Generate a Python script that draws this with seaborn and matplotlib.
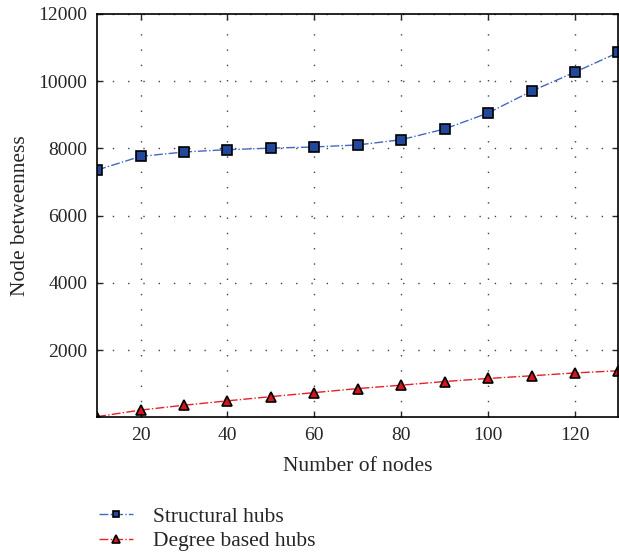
import matplotlib
matplotlib.use("Agg")
import matplotlib.pyplot as plt
import seaborn as sns
import pandas as pd

# values
nodes = [10, 20, 30, 40, 50, 60, 70, 80, 90, 100, 110, 120, 130]
structural_hubs = [7355, 7760, 7890, 7960, 8005, 8040, 8100, 8255, 8575,
                   9050, 9700, 10265, 10850]
degree_hubs = [20, 215, 360, 490, 615, 735, 855, 955, 1065, 1155, 1235,
               1320, 1385]
y_ticks = [2000, 4000, 6000, 8000, 10000, 12000]
x_ticks = [20, 40, 60, 80, 100, 120]

sns.set_style("ticks")
plt.rcParams['font.family'] = ['Liberation Serif', 'DejaVu Serif']
plt.rcParams['xtick.direction'] = 'in'
plt.rcParams['ytick.direction'] = 'in'

df = pd.DataFrame({'nodes': nodes, 'Structural hubs': structural_hubs,
                   'Degree based hubs': degree_hubs})

fig = plt.figure(figsize=(6.19, 5.52), dpi=100)
ax = fig.add_axes([0.157, 0.244, 0.842, 0.731])

sns.lineplot(data=df, x='nodes', y='Structural hubs', ax=ax,
             color='#4468c0', linestyle='-.', linewidth=1.0,
             marker='s', markersize=7, markerfacecolor='#23479a',
             markeredgecolor='black', markeredgewidth=1.2,
             label='Structural hubs')
sns.lineplot(data=df, x='nodes', y='Degree based hubs', ax=ax,
             color='#e8202a', linestyle='-.', linewidth=1.0,
             marker='^', markersize=7.5, markerfacecolor='#d7141c',
             markeredgecolor='black', markeredgewidth=1.2,
             label='Degree based hubs')

ax.set_xlim(10, 130)
ax.set_ylim(0, 12000)
ax.set_xticks(x_ticks)
ax.set_yticks(y_ticks)
ax.tick_params(axis='both', labelsize=14, top=True, right=True,
               length=4, width=1, pad=7)
ax.grid(True, color='#444444', linestyle=(0, (1, 10)), linewidth=1.0)
for s in ax.spines.values():
    s.set_linewidth(1.2)
    s.set_color('black')

ax.set_xlabel('Number of nodes', fontsize=15.5, labelpad=9)
ax.set_ylabel('Node betweenness', fontsize=15.5, labelpad=6)

ax.legend(loc='upper left', bbox_to_anchor=(0.16, 0.082),
          bbox_transform=fig.transFigure, frameon=False, fontsize=15.5,
          handlelength=1.6, labelspacing=0.2, handletextpad=0.9,
          markerscale=0.7, borderaxespad=0, borderpad=0)

fig.savefig('out.png', dpi=100)
